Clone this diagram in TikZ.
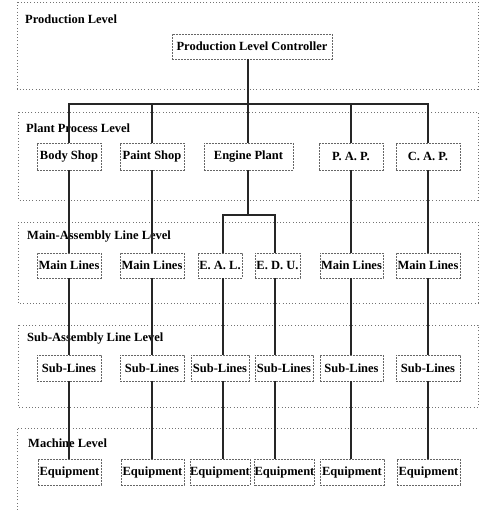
\documentclass[tikz,border=0pt]{standalone}
\usepackage{fontspec}
\setmainfont{Liberation Serif}
\begin{document}
\begin{tikzpicture}[x=1pt,y=-1pt,
  lvl/.style={draw=black!55, line width=0.6pt, dash pattern=on 1pt off 2.2pt},
  lvltxt/.style={anchor=west, inner sep=0pt, font=\fontsize{12.5}{13}\selectfont\bfseries},
  box/.style={draw=black!60, line width=0.5pt, dash pattern=on 2pt off 1pt, fill=white, inner sep=0pt, font=\fontsize{12.5}{13}\selectfont\bfseries},
  conn/.style={draw=black!85, line width=1.1pt}]
\useasboundingbox (0,0) rectangle (480,510);
% level boxes
\draw[lvl] (17,2) rectangle (478,89);
\draw[lvl] (18,112) rectangle (478,200);
\draw[lvl] (18,222) rectangle (478,303);
\draw[lvl] (18,325) rectangle (478,407);
\draw[lvl] (17,510) -- (17,428) -- (478,428);
\node[lvltxt] (l1) at (25,19) {Production Level};
\node[lvltxt] (l2) at (26,128) {Plant Process Level};
\node[lvltxt] (l3) at (27,237) {Main-Assembly Line Level};
\node[lvltxt] (l4) at (27,339) {Sub-Assembly Line Level};
\node[lvltxt] (l5) at (28,443) {Machine Level};
% column coordinates
\coordinate (c1) at (69,0);
\coordinate (c2) at (152,0);
\coordinate (c3) at (223,0);
\coordinate (c4) at (275,0);
\coordinate (c5) at (351,0);
\coordinate (c6) at (428,0);
% nodes
\node[box, minimum width=160pt, minimum height=25pt] (plc) at (252,46.5) {Production Level Controller};
\node[box, minimum width=64pt, minimum height=27pt] (bs) at (69,156.5) {Body Shop};
\node[box, minimum width=64pt, minimum height=27pt] (ps) at (152,156.5) {Paint Shop};
\node[box, minimum width=89pt, minimum height=27pt] (ep) at (248.5,156.5) {Engine Plant};
\node[box, minimum width=64pt, minimum height=27pt] (pap) at (351,156.5) {P. A. P.};
\node[box, minimum width=64pt, minimum height=27pt] (cap) at (428,156.5) {C. A. P.};
\node[box, minimum width=64pt, minimum height=25pt] (m1) at (69,265.5) {Main Lines};
\node[box, minimum width=64pt, minimum height=25pt] (m2) at (152,265.5) {Main Lines};
\node[box, minimum width=44pt, minimum height=25pt] (eal) at (220,265.5) {E. A. L.};
\node[box, minimum width=45pt, minimum height=25pt] (edu) at (277.5,265.5) {E. D. U.};
\node[box, minimum width=63pt, minimum height=25pt] (m5) at (351.5,265.5) {Main Lines};
\node[box, minimum width=64pt, minimum height=25pt] (m6) at (428,265.5) {Main Lines};
\node[box, minimum width=64pt, minimum height=26pt] (s1) at (69,368) {Sub-Lines};
\node[box, minimum width=64pt, minimum height=26pt] (s2) at (152,368) {Sub-Lines};
\node[box, minimum width=58pt, minimum height=26pt] (s3) at (220,368) {Sub-Lines};
\node[box, minimum width=58pt, minimum height=26pt] (s4) at (284,368) {Sub-Lines};
\node[box, minimum width=63pt, minimum height=26pt] (s5) at (351.5,368) {Sub-Lines};
\node[box, minimum width=64pt, minimum height=26pt] (s6) at (428,368) {Sub-Lines};
\node[box, minimum width=63pt, minimum height=26pt] (e1) at (69.5,472) {Equipment};
\node[box, minimum width=63pt, minimum height=26pt] (e2) at (152.5,472) {Equipment};
\node[box, minimum width=56pt, minimum height=26pt] (e3) at (220,472) {Equipment};
\node[box, minimum width=57pt, minimum height=26pt] (e4) at (284.5,472) {Equipment};
\node[box, minimum width=64pt, minimum height=26pt] (e5) at (352,472) {Equipment};
\node[box, minimum width=63pt, minimum height=26pt] (e6) at (428.5,472) {Equipment};
% connectors
\coordinate (bus) at (248,104);
\coordinate (ej) at (248,215);
\draw[conn] (plc.south -| bus) -- (bus);
\draw[conn] (bs.north) |- (bus) -| (cap.north);
\draw[conn] (ps.north) -- (ps.north |- bus);
\draw[conn] (ep.north -| bus) -- (bus);
\draw[conn] (pap.north) -- (pap.north |- bus);
\draw[conn] (ep.south -| ej) -- (ej);
\draw[conn] (eal.north -| c3) |- (ej) -| (edu.north -| c4);
\foreach \a/\b/\c in {bs/m1/c1, ps/m2/c2, pap/m5/c5, cap/m6/c6,
  m1/s1/c1, m2/s2/c2, eal/s3/c3, edu/s4/c4, m5/s5/c5, m6/s6/c6,
  s1/e1/c1, s2/e2/c2, s3/e3/c3, s4/e4/c4, s5/e5/c5, s6/e6/c6}
  \draw[conn] (\a.south -| \c) -- (\b.north -| \c);
\end{tikzpicture}
\end{document}
